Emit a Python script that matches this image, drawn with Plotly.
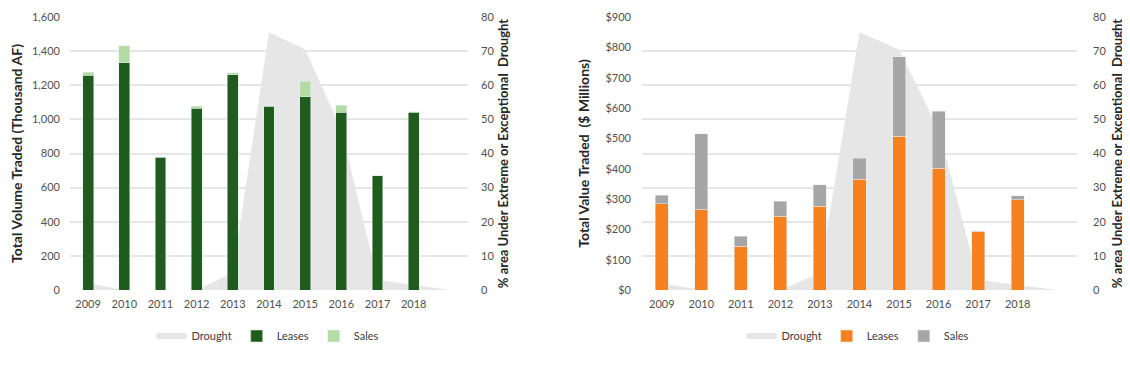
import plotly.graph_objects as go

# ---- data ----
years = [2009, 2010, 2011, 2012, 2013, 2014, 2015, 2016, 2017, 2018]
tick_labels = ["2009", "2010", "2011", "2012", "2013", "2014", "2015", "2016", "2017", "2018"]
drought_years = [2009, 2010, 2011, 2012, 2013, 2014, 2015, 2016, 2017, 2018, 2019]
drought_pct = [2, 0, 0, 0, 5, 75.5, 70.5, 47, 3, 1.5, 0]

volume_leases = [1260, 1331, 778, 1064, 1261, 1078, 1134, 1041, 671, 1041]
volume_sales = [15, 100, 3, 14, 13, 3, 90, 43, 0, 3]

value_leases = [284, 267, 144, 243, 276, 365, 507, 401, 194, 298]
value_sales = [29, 248, 33, 49, 71, 69, 262, 188, 1, 12]

# ---- styles ----
PAGE_MARGIN = 8          # default body margin of the html page
W, H = 1130 - PAGE_MARGIN, 366 - PAGE_MARGIN
FONT = "Lato, 'Open Sans', sans-serif"
DROUGHT_C = "#e6e6e6"
GREEN_D = "#215c1f"
GREEN_L = "#b3dba3"
ORANGE = "#f7811f"
GRAY = "#a6a6a6"
GRID = "#e6e6e6"
TICK_C = "#505050"
TITLE_C = "#262626"

def fx(px):
    return (px - PAGE_MARGIN) / W

def fy(py):
    return 1 - (py - PAGE_MARGIN) / H

fig = go.Figure()

# Left chart: drought on base axis (y), bars on overlay (y2)
fig.add_trace(go.Scatter(x=drought_years, y=drought_pct, mode="none", fill="tozeroy",
                         fillcolor=DROUGHT_C, name="Drought", xaxis="x", yaxis="y",
                         legend="legend"))
fig.add_trace(go.Bar(x=years, y=volume_leases, name="Leases", marker_color=GREEN_D,
                     width=0.3, xaxis="x", yaxis="y2", legend="legend"))
fig.add_trace(go.Bar(x=years, y=volume_sales, name="Sales", marker_color=GREEN_L,
                     width=0.3, xaxis="x", yaxis="y2", legend="legend"))

# Right chart: drought on y3, bars on y4
fig.add_trace(go.Scatter(x=drought_years, y=drought_pct, mode="none", fill="tozeroy",
                         fillcolor=DROUGHT_C, name="Drought", xaxis="x2", yaxis="y3",
                         legend="legend2"))
fig.add_trace(go.Bar(x=years, y=value_leases, name="Leases", marker_color=ORANGE,
                     width=0.33, xaxis="x2", yaxis="y4", legend="legend2"))
fig.add_trace(go.Bar(x=years, y=value_sales, name="Sales", marker_color=GRAY,
                     width=0.33, xaxis="x2", yaxis="y4", legend="legend2"))

ydom = [fy(290), fy(17)]
right_title = "% area Under Extreme or Exceptional  Drought"

tickfont = dict(size=11, color=TICK_C, family=FONT)

common_x = dict(range=[2008.5, 2019.5], tickmode="array", tickvals=years, ticktext=tick_labels,
                showgrid=False, zeroline=False, showline=False, ticks="", automargin=False,
                tickfont=tickfont, ticklabelstandoff=6)

def drought_axis(label_gap, title_gap):
    return dict(range=[0, 80], dtick=10, side="right", showgrid=True, gridcolor=GRID,
                gridwidth=1.5, zeroline=False, showline=False, ticks="", automargin=False,
                tickfont=tickfont, ticklabelstandoff=label_gap,
                title=dict(text=right_title,
                           font=dict(size=13, color=TITLE_C, family=FONT, weight="bold"),
                           standoff=title_gap))

fig.update_layout(
    width=W, height=H,
    margin=dict(l=0, r=0, t=0, b=0, pad=0),
    paper_bgcolor="white", plot_bgcolor="white",
    barmode="stack",
    font=dict(family=FONT, size=11, color=TICK_C),
    xaxis=dict(domain=[fx(70), fx(468)], anchor="y", **common_x),
    yaxis=dict(domain=ydom, anchor="x", **drought_axis(12, 5)),
    yaxis2=dict(overlaying="y", side="left", anchor="x", range=[0, 1600], dtick=200,
                tickformat=",", showgrid=False, zeroline=False, showline=False, ticks="",
                automargin=False, tickfont=tickfont, ticklabelstandoff=9,
                title=dict(text="Total Volume Traded (Thousand AF)",
                           font=dict(size=14, color=TITLE_C, family=FONT, weight="bold"), standoff=10)),
    xaxis2=dict(domain=[fx(642), fx(1077)], anchor="y3", **common_x),
    yaxis3=dict(domain=ydom, anchor="x2", **drought_axis(15, 7)),
    yaxis4=dict(overlaying="y3", side="left", anchor="x2", range=[0, 900], dtick=100,
                tickprefix="$", showgrid=False, zeroline=False, showline=False, ticks="",
                automargin=False, tickfont=tickfont, ticklabelstandoff=10,
                title=dict(text="Total Value Traded  ($ Millions)",
                           font=dict(size=14, color=TITLE_C, family=FONT, weight="bold"), standoff=12)),
    legend=dict(orientation="h", x=fx(268), y=fy(336), xanchor="center", yanchor="middle",
                font=dict(size=11, color="#404040", family=FONT), itemwidth=30,
                bgcolor="rgba(0,0,0,0)", traceorder="normal"),
    legend2=dict(orientation="h", x=fx(858), y=fy(336), xanchor="center", yanchor="middle",
                 font=dict(size=11, color="#404040", family=FONT), itemwidth=30,
                 bgcolor="rgba(0,0,0,0)", traceorder="normal"),
)

fig.write_html("out.html")
